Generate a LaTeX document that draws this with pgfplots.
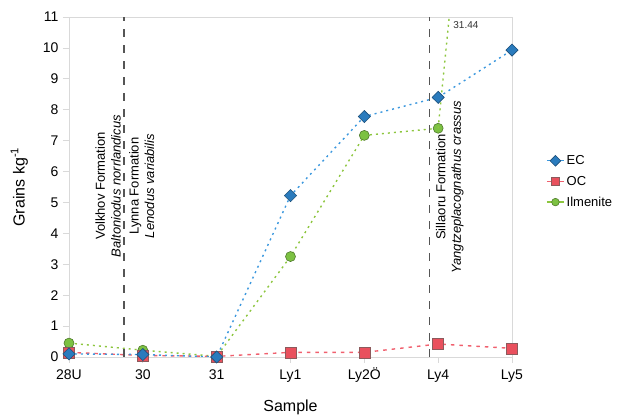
\documentclass[border=0pt]{standalone}
\usepackage{fontspec}
\setmainfont{Liberation Sans}
\usepackage{pgfplots}
\pgfplotsset{compat=1.18}
\definecolor{ecfill}{HTML}{2A7BBD}
\definecolor{ecedge}{HTML}{1D4F7A}
\definecolor{ecline}{HTML}{3C98DE}
\definecolor{ocfill}{HTML}{E9505D}
\definecolor{ocedge}{HTML}{8C5A5C}
\definecolor{ocline}{HTML}{F0606E}
\definecolor{ilfill}{HTML}{7CC142}
\definecolor{iledge}{HTML}{4F7A2C}
\definecolor{illine}{HTML}{8DC63F}
\definecolor{axgrey}{HTML}{D9D9D9}
\definecolor{vgrey}{HTML}{555555}
\begin{document}
\begin{tikzpicture}
\path[use as bounding box] (-69pt,-60pt) rectangle (550pt,357pt);
\begin{axis}[
  scale only axis,
  width=443pt, height=340pt,
  at={(0,0)}, anchor=south west,
  xmin=0, xmax=6, ymin=0, ymax=11,
  xtick={0,1,2,3,4,5,6},
  xticklabels={28U,30,31,Ly1,Ly2Ö,Ly4,Ly5},
  ytick={0,1,...,11},
  axis line style={axgrey, line width=0.8pt},
  tick style={axgrey, line width=0.8pt},
  tick align=outside,
  major tick length=6pt,
  xtick pos=bottom, ytick pos=left,
  /pgf/number format/assume math mode=true,
  tick label style={font=\fontsize{14}{16}\selectfont, text=black},
  xticklabel style={text height=10pt, yshift=-3pt},
  yticklabel style={xshift=-1pt},
  xlabel={Sample},
  ylabel={Grains kg\textsuperscript{-1}},
  label style={font=\fontsize{16}{18}\selectfont},
  xlabel style={yshift=-11pt},
  ylabel style={yshift=8pt},
  clip mode=individual,
  reverse legend,
  legend style={at={(1.07,0.605)}, anchor=north west, draw=none, fill=none,
    font=\fontsize{13}{15}\selectfont, row sep=6pt,
    legend cell align=left},
  legend image post style={solid, mark size=3.8pt},
]
% Ilmenite
\addplot[illine, line width=1.4pt, dash pattern=on 2pt off 4pt,
  mark=*, mark size=5pt, mark options={solid, fill=ilfill, draw=iledge, line width=0.6pt}]
  coordinates {(0,0.45) (1,0.22) (2,0.02) (3,3.25) (4,7.17) (5,7.40)};
\addlegendentry{Ilmenite}
\addplot[illine, line width=1.4pt, dash pattern=on 2pt off 4pt, forget plot]
  coordinates {(5,7.40) (6,31.44)};
% OC
\addplot[ocline, line width=1.4pt, dash pattern=on 3.5pt off 5pt,
  mark=square*, mark size=5.5pt, mark options={solid, fill=ocfill, draw=ocedge, line width=0.6pt}]
  coordinates {(0,0.15) (1,0.05) (2,0.02) (3,0.15) (4,0.15) (5,0.42) (6,0.28)};
\addlegendentry{OC}
% EC
\addplot[ecline, line width=1.4pt, dash pattern=on 2pt off 4pt,
  mark=square*, mark size=4.3pt, mark options={solid, rotate=45, fill=ecfill, draw=ecedge, line width=0.6pt}]
  coordinates {(0,0.10) (1,0.08) (2,0.00) (3,5.22) (4,7.78) (5,8.40) (6,9.93)};
\addlegendentry{EC}
% formation boundaries
\addplot[vgrey, line width=1.2pt, dash pattern=on 8pt off 8pt, forget plot]
  coordinates {(0.744,0) (0.744,11)};
\addplot[vgrey, line width=1.2pt, dash pattern=on 8pt off 8pt, forget plot]
  coordinates {(4.885,0) (4.885,11)};
\node[rotate=90, anchor=south, align=center, inner sep=3pt,
  font=\fontsize{13}{15.6}\selectfont] at (axis cs:0.744,5.53)
  {Volkhov Formation\\\textit{Baltoniodus norrlandicus}};
\node[rotate=90, anchor=north, align=center, inner sep=5pt,
  font=\fontsize{13}{15.6}\selectfont] at (axis cs:0.744,5.53)
  {Lynna Formation\\\textit{Lenodus variabilis}};
\node[rotate=90, anchor=north, align=center, inner sep=6pt,
  font=\fontsize{13}{15.6}\selectfont] at (axis cs:4.885,5.5)
  {Sillaoru Formation\\\textit{Yangtzeplacognathus crassus}};
\node[anchor=west, inner sep=1pt, font=\fontsize{10}{12}\selectfont, text=black!80]
  at (axis cs:5.19,10.74) {31.44};
\end{axis}
\end{tikzpicture}
\end{document}
